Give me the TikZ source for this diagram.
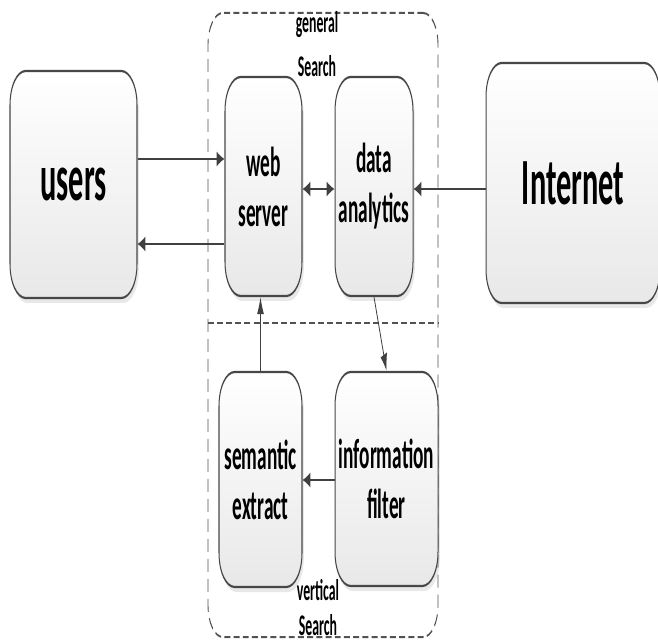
\documentclass[tikz,border=0pt]{standalone}
\usepackage{fontspec}
\setmainfont{Carlito}
\usetikzlibrary{arrows.meta,shadows}
\tikzset{
  >={Latex[length=8.5pt,width=7.5pt]},
  blk/.style 2 args={draw=black!72, line width=1.1pt, rounded corners=17pt,
    top color=white, bottom color=black!9,
    drop shadow={shadow xshift=2pt, shadow yshift=-2.5pt, opacity=0.18},
    minimum width=#1*1.08696pt, minimum height=#2*0.5pt, inner sep=0pt,
    align=center, font=\fontsize{21}{25}\selectfont\bfseries},
  bigtext/.style={font=\fontsize{33}{38}\selectfont\bfseries},
  dashline/.style={draw=black!68, line width=1pt, dash pattern=on 6.5pt off 3.5pt},
  grp/.style={dashline, rounded corners=16pt, minimum width=#1*1.08696pt, inner sep=0pt},
  lbl/.style={font=\fontsize{15}{18}\selectfont\bfseries, inner sep=0pt, anchor=base},
  arr/.style={draw=black!75, line width=0.85pt, ->},
}
\begin{document}
\begin{tikzpicture}
\useasboundingbox (0,0) rectangle (329pt,-320pt);
\begin{scope}[transform canvas={xscale=0.46}, x=1.08696pt, y=-0.5pt]
  % dashed frame around the search engine with its divider
  \node[grp=230, minimum height=312pt] (frame) at (323,325) {};
  \draw[dashline] (frame.west |- 0,323) -- (frame.east |- 0,323);

  % section labels
  \node[lbl] (gen) at (317,33) {general};
  \node[lbl] (gsearch) at (317,77) {Search};
  \node[lbl] (vert) at (318,600) {vertical};
  \node[lbl] (vsearch) at (318,635) {Search};

  % blocks
  \node[blk={127}{227}, bigtext] (users) at (73.5,184.5) {users};
  \node[blk={77}{219}] (web) at (263.5,186.5) {web\\server};
  \node[blk={78}{219}] (data) at (374,186.5) {data\\analytics};
  \node[blk={174}{240}, bigtext] (inet) at (573,183) {Internet};
  \node[blk={83}{215}] (sem) at (260.5,479.5) {semantic\\extract};
  \node[blk={103}{214}] (info) at (386.5,479) {information\\filter};

  % connectors
  \draw[arr] (users.east |- 0,159) -- (web.west |- 0,159);
  \draw[arr] (web.west |- 0,244) -- (users.east |- 0,244);
  \draw[arr, <->] (web.east |- 0,189) -- (data.west |- 0,189);
  \draw[arr] (inet.west |- 0,189) -- (data.east |- 0,189);
  \draw[arr] (data.south) -- (info.north);
  \draw[arr] (sem.north) -- (sem.north |- web.south);
  \draw[arr] (info.west |- 0,480) -- (sem.east |- 0,480);
\end{scope}
\end{tikzpicture}
\end{document}
